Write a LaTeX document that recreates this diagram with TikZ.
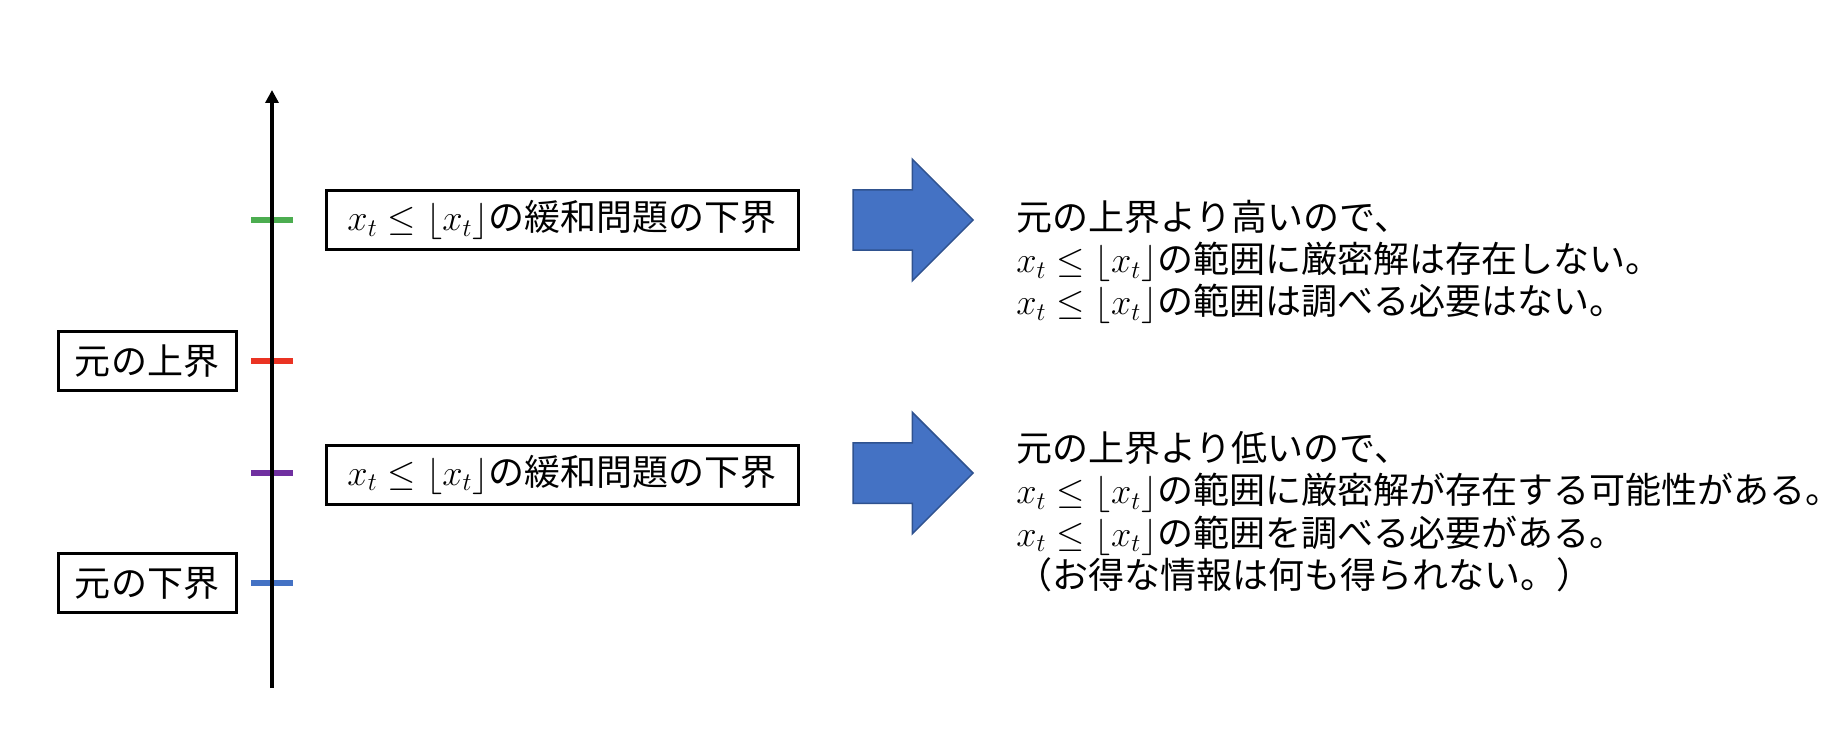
\documentclass[tikz,border=0pt]{standalone}
\usepackage{fontspec}
\setmainfont{Noto Sans CJK JP}
\usetikzlibrary{arrows.meta,shapes.arrows}
\definecolor{tickgreen}{RGB}{76,173,80}
\definecolor{tickred}{RGB}{234,51,35}
\definecolor{tickpurple}{RGB}{112,48,160}
\definecolor{tickblue}{RGB}{68,114,196}
\definecolor{arrowfill}{RGB}{68,114,196}
\definecolor{arrowline}{RGB}{47,82,143}

\begin{document}
\begin{tikzpicture}[x=0.02cm,y=-0.02cm,node distance=2.5cm,font=\fontsize{20.5}{24}\selectfont,
    bound node/.style={rectangle,draw,line width=0.06cm,minimum height=1.18cm,inner sep=0pt},
    tick node/.style={rectangle,inner sep=0pt,minimum width=0.84cm,minimum height=0.12cm},
    arrow node/.style={single arrow,draw=arrowline,fill=arrowfill,line width=0.03cm,inner sep=0pt,inner ysep=0.59cm,minimum height=2.4cm,single arrow head extend=0.61cm},
    note node/.style={align=left,inner sep=0pt}]
            \useasboundingbox (0,0) rectangle (1844,740);

            \node [tick node, fill=tickgreen](1) at (272,220){};
            \node [tick node, fill=tickred](2) at (272,361){};
            \node [tick node, fill=tickpurple](3) at (272,473){};
            \node [tick node, fill=tickblue](4) at (272,583){};

            \coordinate (5) at (272,688);
            \coordinate (6) at (272,90);
            \draw [-{Triangle[length=0.26cm,width=0.26cm]}, line width=0.08cm] (5) -- (6);

            \node [bound node, minimum width=3.56cm](7) [left of=2]{元の上界};
            \node [bound node, minimum width=3.56cm](8) [left of=4]{元の下界};

            \node [bound node, minimum width=9.44cm](9) [right of=1, xshift=94]{$x_t \le \lfloor x_t \rfloor$の緩和問題の下界};
            \node [bound node, minimum width=9.44cm](10) [right of=3, xshift=94, yshift=-1]{$x_t \le \lfloor x_t \rfloor$の緩和問題の下界};

            \node [arrow node](11) [right of=9, xshift=120]{};
            \node [arrow node](12) [right of=10, xshift=120, yshift=1]{};

            \node [note node](13) [right of=11, xshift=-4, yshift=-24, anchor=west]{元の上界より高いので、\\
                $x_t \le \lfloor x_t \rfloor$の範囲に厳密解は存在しない。\\
                $x_t \le \lfloor x_t \rfloor$の範囲は調べる必要はない。};
            \node [note node](14) [right of=12, xshift=-4, yshift=-22, anchor=west]{元の上界より低いので、\\
                $x_t \le \lfloor x_t \rfloor$の範囲に厳密解が存在する可能性がある。\\
                $x_t \le \lfloor x_t \rfloor$の範囲を調べる必要がある。\\
                （お得な情報は何も得られない。）};
        \end{tikzpicture}
\end{document}
